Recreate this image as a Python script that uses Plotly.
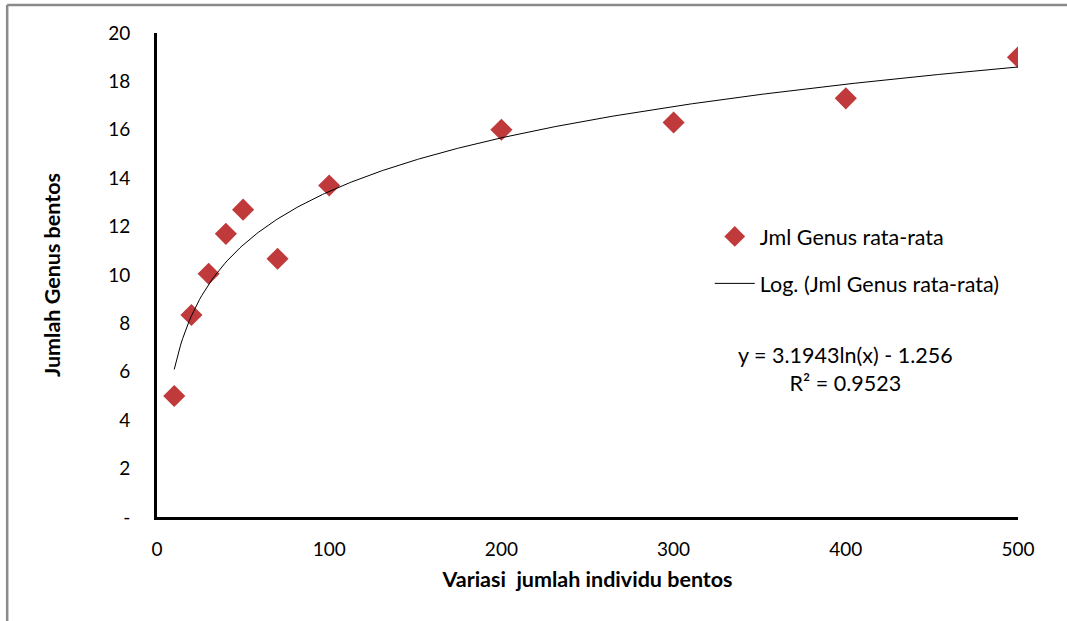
import numpy as np
import plotly.graph_objects as go

# Data
x_vals = [10, 20, 30, 40, 50, 70, 100, 200, 300, 400, 500]
y_vals = [5.0, 8.35, 10.05, 11.7, 12.7, 10.67, 13.7, 16.0, 16.3, 17.3, 19.0]
series_name = "Jml Genus rata-rata"
trend_name = "Log. (Jml Genus rata-rata)"
coef_a = 3.1943
coef_b = -1.256
r2 = 0.9523
y_tickvals = [0, 2, 4, 6, 8, 10, 12, 14, 16, 18, 20]
y_ticktext = ["-", "2", "4", "6", "8", "10", "12", "14", "16", "18", "20"]
x_tickvals = [0, 100, 200, 300, 400, 500]

FONT = "Lato, Open Sans, sans-serif"

# Trendline from the chart's own equation
xt = np.linspace(min(x_vals), max(x_vals), 400)
yt = coef_a * np.log(xt) + coef_b

fig = go.Figure()
fig.add_trace(go.Scatter(
    x=x_vals, y=y_vals, mode="markers", name=series_name,
    marker=dict(symbol="diamond", size=17, color="#C0393B",
                line=dict(width=0)),
    legendgroup="a",
))
fig.add_trace(go.Scatter(
    x=xt, y=yt, mode="lines", name=trend_name,
    line=dict(color="black", width=1),
    legendgroup="b",
))

fig.update_layout(
    width=1067, height=621,
    margin=dict(l=157, r=49, t=33, b=104),
    paper_bgcolor="white", plot_bgcolor="white",
    font=dict(family=FONT, size=19, color="black"),
    showlegend=True,
    legend=dict(
        x=0.642, y=0.622, xanchor="left", yanchor="top",
        bgcolor="rgba(0,0,0,0)", font=dict(size=21.5, family=FONT),
        tracegroupgap=16, traceorder="grouped", itemwidth=40,
    ),
    xaxis=dict(
        range=[0, 500], tickvals=x_tickvals, showgrid=False, zeroline=False,
        showline=True, linecolor="black", linewidth=3, ticks="",
        tickfont=dict(size=19, family=FONT), ticklabelstandoff=13,
        title=dict(text="<b>Variasi  jumlah individu bentos</b>",
                   font=dict(size=21.5, family=FONT), standoff=14),
    ),
    yaxis=dict(
        range=[0, 20], tickvals=y_tickvals, ticktext=y_ticktext,
        showgrid=False, zeroline=False,
        showline=True, linecolor="black", linewidth=3, ticks="",
        tickfont=dict(size=19, family=FONT), ticklabelstandoff=20,
        title=dict(text="<b>Jumlah Genus bentos</b>",
                   font=dict(size=21.5, family=FONT), standoff=42),
    ),
    annotations=[dict(
        xref="paper", yref="paper", x=0.8, y=0.306,
        xanchor="center", yanchor="middle",
        text=f"y = {coef_a}ln(x) - {abs(coef_b)}<br>R² = {r2}",
        showarrow=False, align="center",
        font=dict(size=21.5, family=FONT),
    )],
    shapes=[
        dict(type="line", xref="paper", yref="paper",
             x0=-0.174, x1=1.1, y0=1.0579, y1=1.0579,
             line=dict(color="#8a8a8a", width=2.5)),
        dict(type="line", xref="paper", yref="paper",
             x0=-0.174, x1=-0.174, y0=1.0579, y1=-0.3,
             line=dict(color="#8a8a8a", width=2.5)),
    ],
)

fig.write_html("out.html")
